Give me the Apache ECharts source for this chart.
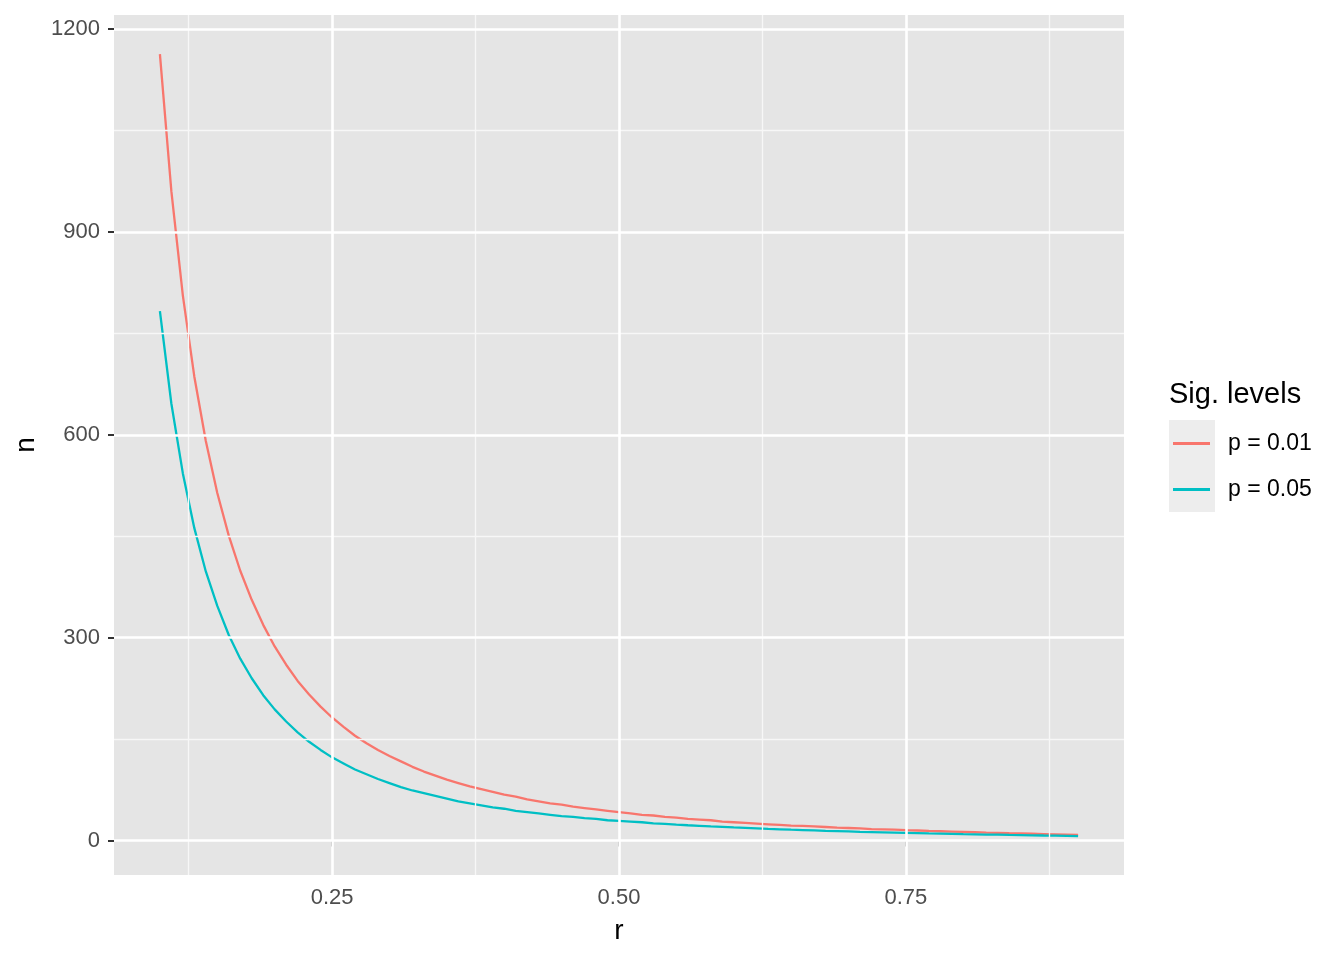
<!DOCTYPE html>
<html>
<head>
<meta charset="utf-8">
<script src="https://cdn.jsdelivr.net/npm/echarts@6/dist/echarts.min.js"></script>
<style>
html,body{margin:0;padding:0;background:#fff;}
#chart{width:1344px;height:960px;}
</style>
</head>
<body>
<div id="chart"></div>
<script>
// ---- data ----
const rValues = [0.10,0.11,0.12,0.13,0.14,0.15,0.16,0.17,0.18,0.19,
  0.20,0.21,0.22,0.23,0.24,0.25,0.26,0.27,0.28,0.29,
  0.30,0.31,0.32,0.33,0.34,0.35,0.36,0.37,0.38,0.39,
  0.40,0.41,0.42,0.43,0.44,0.45,0.46,0.47,0.48,0.49,
  0.50,0.51,0.52,0.53,0.54,0.55,0.56,0.57,0.58,0.59,
  0.60,0.61,0.62,0.63,0.64,0.65,0.66,0.67,0.68,0.69,
  0.70,0.71,0.72,0.73,0.74,0.75,0.76,0.77,0.78,0.79,
  0.80,0.81,0.82,0.83,0.84,0.85,0.86,0.87,0.88,0.89,0.90];
const nP01 = [1163,960,806,686,591,514,451,399,356,319,
  287,260,236,216,198,182,168,155,144,134,
  125,117,109,102,96,90,85,80,76,72,
  68,65,61,58,55,53,50,48,46,44,
  42,40,38,37,35,34,32,31,30,28,
  27,26,25,24,23,22,21.6,21,20,19,
  18.5,18,17,16.5,16,15.3,14.8,14.2,13.7,13.2,
  12.7,12.2,11.7,11.3,10.8,10.4,10,9.6,9.2,8.8,8.4];
const nP05 = [783,646,543,462,398,347,304,269,240,215,
  194,176,160,146,134,123,114,105,98,91,
  85,79,74,70,66,62,58,55,52,49,
  47,44,42,40,38,36,35,33,32,30,
  29,28,27,25.5,24.5,23.5,22.6,21.8,20.9,20.1,
  19.3,18.6,17.9,17.2,16.6,16.0,15.5,15.0,14.4,13.9,
  13.4,12.9,12.5,12.1,11.7,11.3,10.9,10.5,10.2,9.9,
  9.5,9.2,8.8,8.6,8.2,8.0,7.7,7.4,7.2,6.9,6.6];
const seriesNames = ['p = 0.01', 'p = 0.05'];
const xTicks = [0.25, 0.50, 0.75];
const xTickLabels = ['0.25', '0.50', '0.75'];
const xMinor = [0.125, 0.375, 0.625, 0.875];
const yTicks = [0, 300, 600, 900, 1200];
const yTickLabels = ['0', '300', '600', '900', '1200'];
const yMinor = [150, 450, 750, 1050];

// ---- chart ----
const FONT = "'Liberation Sans', Arial, Helvetica, sans-serif";
const colors = ['#F8766D', '#00BFC4'];
const chart = echarts.init(document.getElementById('chart'), null, {renderer: 'canvas'});

const gridLines = [];
xMinor.forEach(v => gridLines.push({xAxis: v, lineStyle: {width: 1.3, color: '#F7F7F7'}}));
yMinor.forEach(v => gridLines.push({yAxis: v, lineStyle: {width: 1.3, color: '#F7F7F7'}}));
xTicks.forEach(v => gridLines.push({xAxis: v, lineStyle: {width: 2.6}}));
yTicks.forEach(v => gridLines.push({yAxis: v, lineStyle: {width: 2.6}}));

const pick = (ticks, labels) => v => {
  const i = ticks.findIndex(t => Math.abs(t - v) < 1e-9);
  return i >= 0 ? labels[i] : '';
};

const legendCommon = {
  left: 1173, itemWidth: 37, itemHeight: 3, icon: 'rect', padding: 0,
  selectedMode: false,
  textStyle: {fontFamily: FONT, fontSize: 23, lineHeight: 22, color: '#000', padding: [0, 0, 0, 13]}
};

chart.setOption({
  animation: false,
  backgroundColor: '#fff',
  grid: {left: 114, right: 220, top: 15, bottom: 85, show: true,
         backgroundColor: '#E5E5E5', borderWidth: 0, containLabel: false},
  xAxis: {
    type: 'value', min: 0.06, max: 0.94,
    name: 'r', nameLocation: 'middle', nameGap: 42,
    nameTextStyle: {fontFamily: FONT, fontSize: 28, color: '#000'},
    axisLine: {show: false},
    axisTick: {show: true, customValues: xTicks, length: 6, lineStyle: {color: '#333', width: 2}},
    axisLabel: {show: true, customValues: xTicks, margin: 12,
      fontFamily: FONT, fontSize: 22, color: '#4D4D4D',
      formatter: pick(xTicks, xTickLabels)},
    splitLine: {show: false}
  },
  yAxis: {
    type: 'value', min: -51, max: 1221,
    name: 'n', nameLocation: 'middle', nameGap: 66, nameRotate: 90,
    nameTextStyle: {fontFamily: FONT, fontSize: 28, color: '#000'},
    axisLine: {show: false},
    axisTick: {show: true, customValues: yTicks, length: 6, lineStyle: {color: '#333', width: 2}},
    axisLabel: {show: true, customValues: yTicks, margin: 14,
      fontFamily: FONT, fontSize: 22, color: '#4D4D4D',
      formatter: pick(yTicks, yTickLabels)},
    splitLine: {show: false}
  },
  legend: [
    Object.assign({}, legendCommon, {data: [seriesNames[0]], top: 432}),
    Object.assign({}, legendCommon, {data: [seriesNames[1]], top: 478})
  ],
  graphic: [
    {type: 'text', left: 1169, top: 380, silent: true,
     style: {text: 'Sig. levels', font: '29px ' + FONT, fill: '#000'}},
    {type: 'rect', shape: {x: 1169, y: 420, width: 46, height: 92}, z: -1, silent: true,
     style: {fill: '#EDEDED'}}
  ],
  series: [
    {type: 'line', name: '_grid', data: [], silent: true, z: 1,
     markLine: {silent: true, precision: 6, symbol: ['none', 'none'], label: {show: false},
       lineStyle: {color: '#FFFFFF', type: 'solid'}, emphasis: {disabled: true},
       animation: false, data: gridLines}},
    {type: 'line', name: seriesNames[0], z: 3, showSymbol: false, symbol: 'none',
     color: colors[0], lineStyle: {width: 2.3, color: colors[0]},
     data: rValues.map((r, i) => [r, nP01[i]])},
    {type: 'line', name: seriesNames[1], z: 3, showSymbol: false, symbol: 'none',
     color: colors[1], lineStyle: {width: 2.3, color: colors[1]},
     data: rValues.map((r, i) => [r, nP05[i]])}
  ]
});
</script>
</body>
</html>
